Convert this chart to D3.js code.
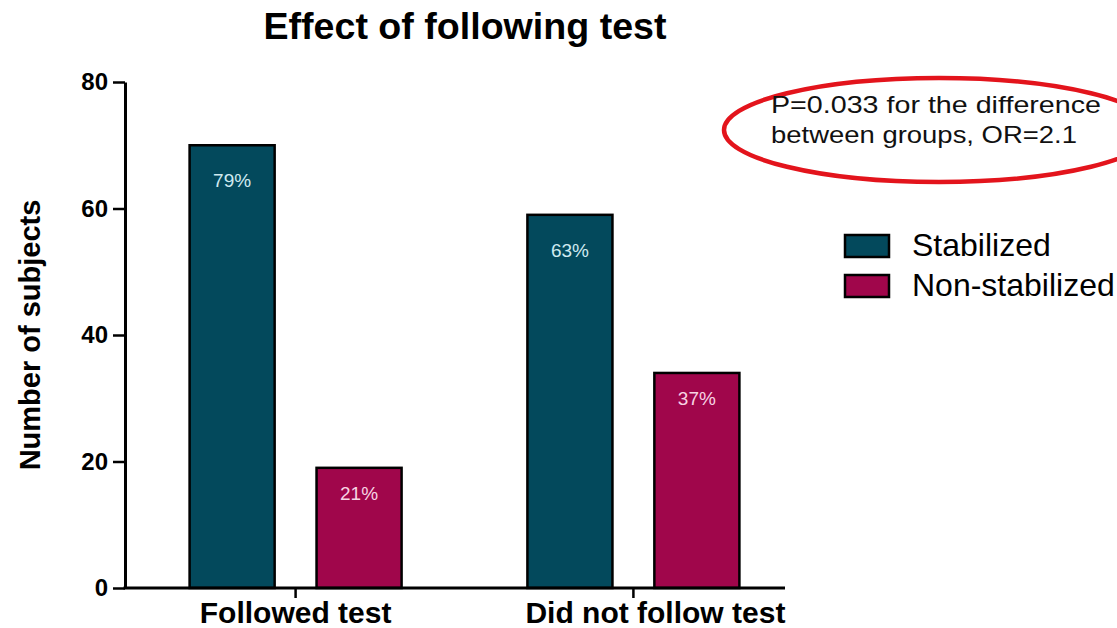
<!DOCTYPE html>
<html>
<head>
<meta charset="utf-8">
<script src="https://cdn.jsdelivr.net/npm/d3@7"></script>
<style>
  html, body { margin: 0; padding: 0; background: #ffffff; }
  svg { display: block; font-family: "Liberation Sans", Arial, sans-serif; }
</style>
</head>
<body>
<svg id="chart" width="1117" height="628"></svg>
<script>
// ---- data ----
const categories = ["Followed test", "Did not follow test"];
const seriesNames = ["Stabilized", "Non-stabilized"];
const stabilized = [70, 59];
const nonStabilized = [19, 34];
const yTicks = [0, 20, 40, 60, 80];
const titleText = "Effect of following test";
const yTitle = "Number of subjects";
const noteLines = ["P=0.033 for the difference", "between groups, OR=2.1"];

// ---- styles ----
const colors = { "Stabilized": "#03495c", "Non-stabilized": "#a0064b" };
const labelColors = { "Stabilized": "#cfeaf0", "Non-stabilized": "#f7d3e3" };
const labelOffset = { "Stabilized": 42, "Non-stabilized": 32 };
const FONT = "'Liberation Sans', Arial, sans-serif";
const svg = d3.select("#chart");

const x0 = d3.scaleBand().domain(categories).range([125, 804]).paddingInner(0).paddingOuter(0.005);
const x1 = d3.scaleBand().domain(seriesNames).range([-106, 106]).paddingInner(0.33).paddingOuter(0);
const y = d3.scaleLinear().domain([0, 80]).range([588, 82]);

const rows = [];
categories.forEach((c, i) => {
  const total = stabilized[i] + nonStabilized[i];
  rows.push({ cat: c, series: "Stabilized", value: stabilized[i], pct: stabilized[i] / total });
  rows.push({ cat: c, series: "Non-stabilized", value: nonStabilized[i], pct: nonStabilized[i] / total });
});

// title
svg.append("text")
  .attr("x", 465).attr("y", 39)
  .attr("text-anchor", "middle")
  .attr("font-size", 36).attr("font-weight", "bold")
  .attr("textLength", 403).attr("lengthAdjust", "spacingAndGlyphs")
  .attr("fill", "#000")
  .text(titleText);

// bars
const bx = d => x0(d.cat) + x0.bandwidth() / 2 + x1(d.series);
svg.append("g").selectAll("rect").data(rows).join("rect")
  .attr("x", bx)
  .attr("y", d => y(d.value))
  .attr("width", x1.bandwidth())
  .attr("height", d => y(0) - y(d.value))
  .attr("fill", d => colors[d.series])
  .attr("stroke", "#000")
  .attr("stroke-width", 2.5);

// percentage labels
svg.append("g").selectAll("text").data(rows).join("text")
  .attr("x", d => bx(d) + x1.bandwidth() / 2)
  .attr("y", d => y(d.value) + labelOffset[d.series])
  .attr("text-anchor", "middle")
  .attr("font-size", 19)
  .attr("fill", d => labelColors[d.series])
  .text(d => d3.format(".0%")(d.pct));

// y axis
const yAxis = svg.append("g")
  .attr("transform", "translate(125,0)")
  .call(d3.axisLeft(y).tickValues(yTicks).tickSize(12).tickPadding(5).tickSizeOuter(0));
yAxis.select(".domain").attr("stroke", "#000").attr("stroke-width", 3);
yAxis.selectAll(".tick line").attr("stroke", "#000").attr("stroke-width", 2.5);
yAxis.selectAll(".tick text")
  .attr("font-size", 24).attr("font-weight", "bold").attr("fill", "#000")
  .attr("font-family", FONT);

// x axis
const xAxis = svg.append("g")
  .attr("transform", "translate(0,588)")
  .call(d3.axisBottom(x0).tickSize(10).tickSizeOuter(0));
xAxis.select(".domain").remove();
xAxis.append("line")
  .attr("x1", 123.5).attr("x2", 785).attr("y1", 0).attr("y2", 0)
  .attr("stroke", "#000").attr("stroke-width", 3);
xAxis.selectAll(".tick line").attr("stroke", "#000").attr("stroke-width", 2.5);
xAxis.selectAll(".tick text")
  .attr("y", 35).attr("dy", null)
  .attr("font-size", 30).attr("font-weight", "bold").attr("fill", "#000")
  .attr("font-family", FONT)
  .attr("dx", (d, i) => i === 1 ? 22 : 0);

// y title
svg.append("text")
  .attr("transform", "translate(40,335) rotate(-90)")
  .attr("text-anchor", "middle")
  .attr("font-size", 29).attr("font-weight", "bold")
  .attr("fill", "#000")
  .text(yTitle);

// legend
const legend = svg.append("g").selectAll("g").data(seriesNames).join("g")
  .attr("transform", (d, i) => `translate(845,${235 + i * 40})`);
legend.append("rect")
  .attr("width", 44).attr("height", 22)
  .attr("fill", d => colors[d])
  .attr("stroke", "#000").attr("stroke-width", 2.5);
legend.append("text")
  .attr("x", 67).attr("y", 21)
  .attr("font-size", 32)
  .attr("fill", "#000")
  .text(d => d);

// annotation
svg.append("ellipse")
  .attr("cx", 939).attr("cy", 130).attr("rx", 215).attr("ry", 52)
  .attr("fill", "none").attr("stroke", "#e3141c").attr("stroke-width", 4.5);
const noteWidths = [330, 306];
svg.append("g").selectAll("text").data(noteLines).join("text")
  .attr("x", 771).attr("y", (d, i) => 113 + i * 30)
  .attr("font-size", 24.5)
  .attr("textLength", (d, i) => noteWidths[i]).attr("lengthAdjust", "spacingAndGlyphs")
  .attr("fill", "#111")
  .text(d => d);
</script>
</body>
</html>
